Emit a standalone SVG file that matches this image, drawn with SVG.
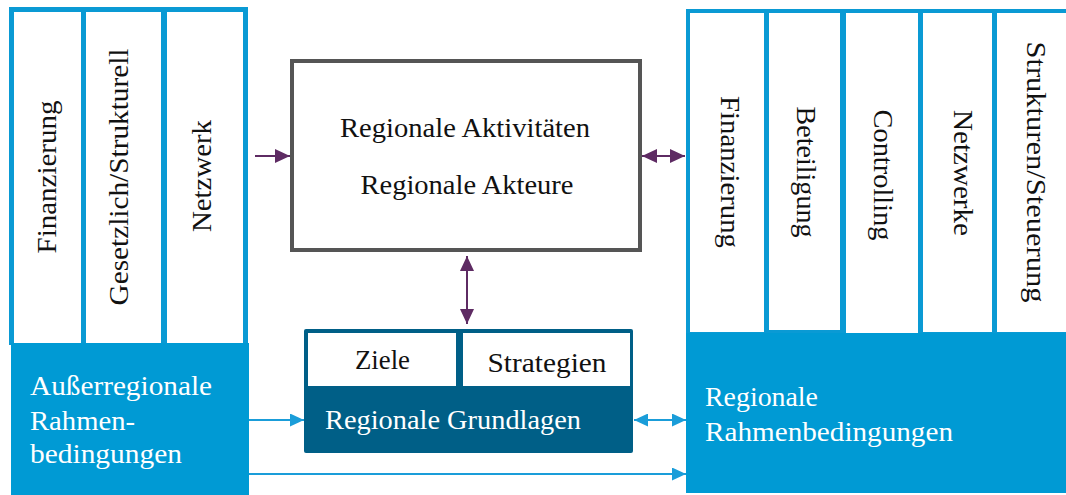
<svg xmlns="http://www.w3.org/2000/svg" width="1066" height="495" viewBox="0 0 1066 495">
  <style>
    .t { font-family: "Liberation Serif", "Times New Roman", serif; font-size: 28px; fill: #111; }
    .w { fill: #ffffff; }
    .mid { text-anchor: middle; }
    .col { fill: #ffffff; }
    .frame { fill: #0a9ad4; }
    .base { fill: #009ad4; }
    .purple { stroke: #5e2b63; stroke-width: 2; fill: none; }
    .blue { stroke: #1a9dd9; stroke-width: 2; fill: none; }
  </style>
  <defs>
    <marker id="headP" markerUnits="userSpaceOnUse" markerWidth="15" markerHeight="14" refX="15" refY="7" orient="auto-start-reverse">
      <path d="M0,0 L15,7 L0,14 z" fill="#5e2b63"/>
    </marker>
    <marker id="headB" markerUnits="userSpaceOnUse" markerWidth="14" markerHeight="13" refX="14" refY="6.5" orient="auto-start-reverse">
      <path d="M0,0 L14,6.5 L0,13 z" fill="#1a9dd9"/>
    </marker>
  </defs>

  <rect width="1066" height="495" fill="#ffffff"/>

  <!-- external framework: three pillars on a blue base -->
  <g id="external-pillars">
    <rect class="frame" x="9" y="7" width="239" height="338"/>
    <rect class="col" x="14" y="12" width="67" height="331"/>
    <rect class="col" x="86" y="12" width="75" height="331"/>
    <rect class="col" x="167" y="12" width="76" height="331"/>
    <text class="t mid" transform="translate(56,177) rotate(-90)" textLength="153" lengthAdjust="spacingAndGlyphs">Finanzierung</text>
    <text class="t mid" transform="translate(128,177) rotate(-90)" textLength="257" lengthAdjust="spacingAndGlyphs">Gesetzlich/Strukturell</text>
    <text class="t mid" transform="translate(211,176) rotate(-90)" textLength="112" lengthAdjust="spacingAndGlyphs">Netzwerk</text>
  </g>
  <g id="external-base">
    <rect class="base" x="11" y="343" width="238" height="152"/>
    <text class="t w" x="30" y="395" textLength="182" lengthAdjust="spacingAndGlyphs">Außerregionale</text>
    <text class="t w" x="30" y="430" textLength="105" lengthAdjust="spacingAndGlyphs">Rahmen-</text>
    <text class="t w" x="30" y="463" textLength="152" lengthAdjust="spacingAndGlyphs">bedingungen</text>
  </g>

  <!-- regional activities and actors -->
  <g id="activities">
    <rect x="292" y="61" width="348" height="189" fill="#ffffff" stroke="#555555" stroke-width="4"/>
    <text class="t mid" x="465" y="137" textLength="250" lengthAdjust="spacingAndGlyphs">Regionale Aktivitäten</text>
    <text class="t mid" x="467" y="194" textLength="213" lengthAdjust="spacingAndGlyphs">Regionale Akteure</text>
  </g>

  <!-- regional foundations -->
  <g id="foundations">
    <rect x="304" y="329" width="329" height="124" rx="2" fill="#005f87"/>
    <rect class="col" x="308" y="333" width="148" height="53"/>
    <rect class="col" x="463" y="333" width="167" height="53"/>
    <text class="t mid" x="382.5" y="369" textLength="55" lengthAdjust="spacingAndGlyphs">Ziele</text>
    <text class="t mid" x="547" y="372" textLength="119" lengthAdjust="spacingAndGlyphs">Strategien</text>
    <text class="t w" x="325" y="429" textLength="256" lengthAdjust="spacingAndGlyphs">Regionale Grundlagen</text>
  </g>

  <!-- regional framework: five pillars on a blue base -->
  <g id="regional-pillars">
    <rect class="frame" x="686" y="9" width="380" height="326"/>
    <rect class="col" x="690" y="13" width="74" height="319"/>
    <rect class="col" x="769" y="13" width="71" height="317"/>
    <rect class="col" x="846" y="13" width="72" height="320"/>
    <rect class="col" x="923" y="13" width="69" height="319"/>
    <rect class="col" x="997" y="13" width="69" height="319"/>
    <text class="t mid" transform="translate(721,172) rotate(90)" textLength="152" lengthAdjust="spacingAndGlyphs">Finanzierung</text>
    <text class="t mid" transform="translate(797,172) rotate(90)" textLength="131" lengthAdjust="spacingAndGlyphs">Beteiligung</text>
    <text class="t mid" transform="translate(874,175) rotate(90)" textLength="131" lengthAdjust="spacingAndGlyphs">Controlling</text>
    <text class="t mid" transform="translate(954,173) rotate(90)" textLength="126" lengthAdjust="spacingAndGlyphs">Netzwerke</text>
    <text class="t mid" transform="translate(1027,172) rotate(90)" textLength="261" lengthAdjust="spacingAndGlyphs">Strukturen/Steuerung</text>
  </g>
  <g id="regional-base">
    <rect class="base" x="686" y="333" width="380" height="160"/>
    <text class="t w" x="705" y="406" textLength="113" lengthAdjust="spacingAndGlyphs">Regionale</text>
    <text class="t w" x="705" y="441" textLength="248" lengthAdjust="spacingAndGlyphs">Rahmenbedingungen</text>
  </g>

  <!-- connectors -->
  <g id="connectors">
    <line class="purple" x1="255" y1="156" x2="290" y2="156" marker-end="url(#headP)"/>
    <line class="purple" x1="642" y1="156" x2="685" y2="156" marker-start="url(#headP)" marker-end="url(#headP)"/>
    <line class="purple" x1="467" y1="256" x2="467" y2="324" marker-start="url(#headP)" marker-end="url(#headP)"/>
    <line class="blue" x1="249" y1="420" x2="304" y2="420" marker-end="url(#headB)"/>
    <line class="blue" x1="634" y1="420" x2="686" y2="420" marker-start="url(#headB)" marker-end="url(#headB)"/>
    <line class="blue" x1="249" y1="474" x2="686" y2="474" marker-end="url(#headB)"/>
  </g>
</svg>
